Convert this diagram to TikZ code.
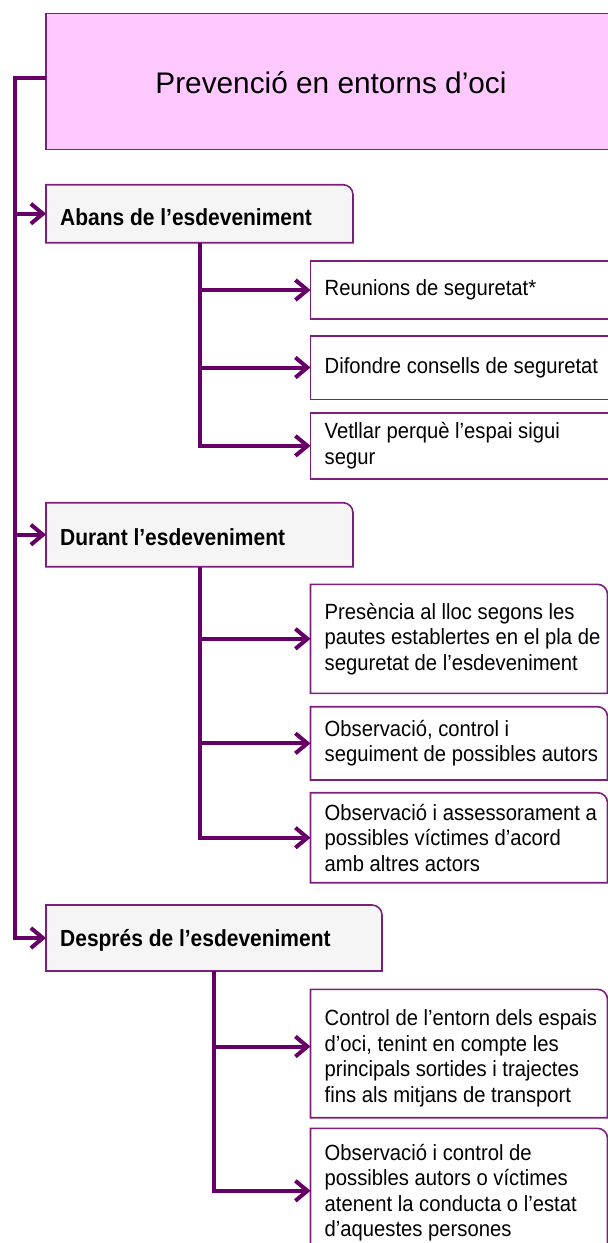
\documentclass[tikz,border=0pt]{standalone}
\usepackage{fontspec}
\setmainfont{Liberation Sans}
\newfontfamily\hdfam{Liberation Sans}[FakeStretch=0.9]
\newfontfamily\itfam{Liberation Sans}[FakeStretch=0.92]
\usetikzlibrary{arrows.meta}
\definecolor{conncol}{RGB}{102,0,102}
\definecolor{boxcol}{RGB}{125,30,125}
\definecolor{titlefill}{RGB}{255,200,255}
\definecolor{headfill}{RGB}{245,245,245}
\newcommand\ttlfont{\fontsize{29.8}{34}\selectfont}
\newcommand\hdfont{\hdfam\fontsize{23.3}{27}\selectfont\bfseries}
\newcommand\itemfont{\itfam\fontsize{22}{25.5}\selectfont}
\newcommand\rtrbox[2]{%
  \draw[boxline, fill=#2] (#1.south west) -- (#1.north west) -- ([xshift=-10pt]#1.north east)
    arc[start angle=90,end angle=0,radius=10pt] -- (#1.south east) -- cycle;}
\tikzset{
  conn/.style={draw=conncol, line width=4pt},
  arr/.style={conn, -{Straight Barb[length=12pt,width=20pt]}},
  boxshape/.style={rectangle, inner sep=0pt, outer sep=0pt},
  boxline/.style={draw=boxcol, line width=1.6pt},
  titlebox/.style={boxshape, draw=boxcol, line width=1.3pt, fill=titlefill, font=\ttlfont, text height=24pt, text depth=0pt},
  itembox/.style={boxshape, boxline, fill=white},
  headtxt/.style={font=\hdfont, anchor=base west, inner sep=0pt},
  itemtxt/.style={font=\itemfont, anchor=west, align=left, inner sep=0pt},
}
\begin{document}
\begin{tikzpicture}[x=1pt,y=1pt]
\useasboundingbox (0,0) rectangle (608,-1243);
% title
\node[titlebox, minimum width=570pt, minimum height=136pt] (title) at (331,-81.3) {Prevenció en entorns d’oci};
% heading boxes
\node[boxshape, minimum width=307pt, minimum height=58pt, anchor=north west] (abans) at (46,-184.7) {};
\node[boxshape, minimum width=307pt, minimum height=64pt, anchor=north west] (durant) at (46,-502.7) {};
\node[boxshape, minimum width=336pt, minimum height=66pt, anchor=north west] (despres) at (46,-905) {};
\rtrbox{abans}{headfill}
\rtrbox{durant}{headfill}
\rtrbox{despres}{headfill}
\node[headtxt] (abansT) at ([xshift=14pt,yshift=-11.3pt]abans.west) {Abans de l’esdeveniment};
\node[headtxt] (durantT) at ([xshift=14pt,yshift=-10.3pt]durant.west) {Durant l’esdeveniment};
\node[headtxt] (despresT) at ([xshift=14pt,yshift=-8.7pt]despres.west) {Després de l’esdeveniment};
% item boxes: first group (square, running off the right edge)
\node[itembox, minimum width=315pt, minimum height=58pt, anchor=north west] (reu) at (310.5,-261) {};
\node[itembox, minimum width=315pt, minimum height=63.6pt, anchor=north west] (dif) at (310.5,-335.7) {};
\node[itembox, minimum width=315pt, minimum height=66.3pt, anchor=north west] (vet) at (310.5,-412.7) {};
% item boxes with rounded top-right corner
\node[boxshape, minimum width=297pt, minimum height=109pt, anchor=north west] (pres) at (310.5,-584.3) {};
\node[boxshape, minimum width=297pt, minimum height=73.3pt, anchor=north west] (obsa) at (310.5,-706.7) {};
\node[boxshape, minimum width=297pt, minimum height=90pt, anchor=north west] (obsb) at (310.5,-792.7) {};
\node[boxshape, minimum width=297pt, minimum height=128.4pt, anchor=north west] (ctrl) at (310.5,-989.3) {};
\node[boxshape, minimum width=297pt, minimum height=125pt, anchor=north west] (obsc) at (310.5,-1128.3) {};
\rtrbox{pres}{white}
\rtrbox{obsa}{white}
\rtrbox{obsb}{white}
\rtrbox{ctrl}{white}
\rtrbox{obsc}{white}
% item texts
\node[itemtxt] (reuT) at ([xshift=14pt]reu.west) {Reunions de seguretat*};
\node[itemtxt] (difT) at ([xshift=14pt]dif.west) {Difondre consells de seguretat};
\node[itemtxt] (vetT) at ([xshift=14pt]vet.west) {Vetllar perquè l’espai sigui\\segur};
\node[itemtxt] (presT) at ([xshift=14pt]pres.west) {Presència al lloc segons les\\pautes establertes en el pla de\\seguretat de l’esdeveniment};
\node[itemtxt] (obsaT) at ([xshift=14pt]obsa.west) {Observació, control i\\seguiment de possibles autors};
\node[itemtxt] (obsbT) at ([xshift=14pt]obsb.west) {Observació i assessorament a\\possibles víctimes d’acord\\amb altres actors};
\node[itemtxt] (ctrlT) at ([xshift=14pt,yshift=-5pt]ctrl.west) {Control de l’entorn dels espais\\d’oci, tenint en compte les\\principals sortides i trajectes\\fins als mitjans de transport};
\node[itemtxt] (obscT) at ([xshift=14pt,yshift=-2pt]obsc.west) {Observació i control de\\possibles autors o víctimes\\atenent la conducta o l’estat\\d’aquestes persones};
% connectors
\coordinate (tx) at (14.5,0);
\coordinate (ax) at (199.5,0);
\coordinate (dx) at (214.4,0);
\coordinate (ctrlA) at ([yshift=7pt]ctrl.west);
\draw[arr] ([yshift=3pt]title.west) -| (tx |- despres.west) -- (despres.west);
\draw[arr] (tx |- abans.west) -- (abans.west);
\draw[arr] (tx |- durant.west) -- (durant.west);
\draw[arr] (abans.south -| ax) |- (vet.west);
\draw[arr] (ax |- reu.west) -- (reu.west);
\draw[arr] (ax |- dif.west) -- (dif.west);
\draw[arr] (durant.south -| ax) |- (obsb.west);
\draw[arr] (ax |- pres.west) -- (pres.west);
\draw[arr] (ax |- obsa.west) -- (obsa.west);
\draw[arr] (despres.south -| dx) |- (obsc.west);
\draw[arr] (dx |- ctrlA) -- (ctrlA);
\end{tikzpicture}
\end{document}
